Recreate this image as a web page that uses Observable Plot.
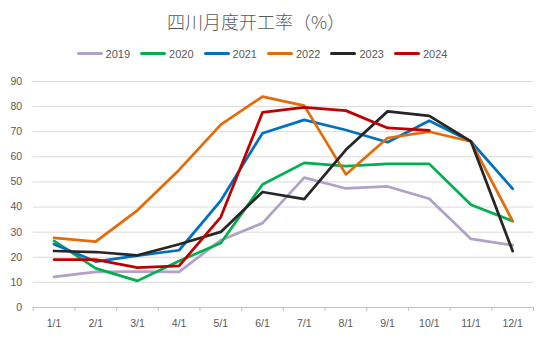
<!DOCTYPE html>
<html><head><meta charset="utf-8">
<script src="https://cdn.jsdelivr.net/npm/d3@7"></script>
<script src="https://cdn.jsdelivr.net/npm/@observablehq/plot@0.6"></script>
<style>
body{margin:0;background:#fff;width:550px;height:342px;overflow:hidden;font-family:"Liberation Sans",Arial,sans-serif;}
#title{height:42px;line-height:42px;text-align:center;font-size:18px;font-weight:300;color:#595959;font-family:"Noto Sans CJK SC",sans-serif;padding-right:38px;}
#legend{height:23px;display:flex;justify-content:center;align-items:center;padding-right:26px;font-size:11px;color:#595959;}
.item{display:flex;align-items:center;margin:0 5px;}
.sw{width:26px;height:3px;border-radius:1.5px;margin-right:3px;}
</style></head>
<body>
<div id="title">四川月度开工率（%）</div>
<div id="legend"></div>
<div id="chart"></div>
<script>
const months = ["1/1","2/1","3/1","4/1","5/1","6/1","7/1","8/1","9/1","10/1","11/1","12/1"];
const years = ["2019","2020","2021","2022","2023","2024"];
const colors = ["#b1a0c7","#00b050","#0070c0","#e36c09","#262626","#c00000"];
const s2019 = [12.2,14.2,14.3,14.2,26.8,33.6,51.7,47.4,48.2,43.3,27.3,24.8];
const s2020 = [26.5,15.6,10.6,18.5,25.7,49.0,57.6,56.3,57.2,57.2,40.9,34.4];
const s2021 = [25.2,18.3,20.7,22.8,42.6,69.4,74.7,70.7,65.8,74.4,66.1,47.3];
const s2022 = [27.7,26.2,38.7,54.8,72.8,84.0,80.4,53.0,67.5,70.0,66.1,34.4];
const s2023 = [22.5,22.1,20.8,25.2,30.1,46.0,43.2,62.8,78.1,76.3,66.1,22.5];
const s2024 = [19.1,19.1,15.9,16.6,36.0,77.7,79.7,78.4,71.5,70.5];
const yTicks = [0,10,20,30,40,50,60,70,80,90];

const series = [s2019,s2020,s2021,s2022,s2023,s2024];
const rows = [];
series.forEach((s, k) => s.forEach((v, i) => rows.push({year: years[k], m: i + 1, v})));
const boundaries = d3.range(0.5, months.length + 1, 1);

const legend = document.getElementById("legend");
years.forEach((y, k) => {
  const it = document.createElement("div"); it.className = "item";
  const sw = document.createElement("div"); sw.className = "sw"; sw.style.background = colors[k];
  const t = document.createElement("span"); t.textContent = y;
  it.appendChild(sw); it.appendChild(t); legend.appendChild(it);
});

const chart = Plot.plot({
  width: 550, height: 277,
  marginTop: 16, marginBottom: 35, marginLeft: 32.7, marginRight: 17,
  style: {fontFamily: "Liberation Sans, Arial, sans-serif", fontSize: "10.5px", color: "#595959", background: "#fff"},
  x: {domain: [0.5, months.length + 0.5]},
  y: {domain: [0, 90]},
  color: {domain: years, range: colors},
  marks: [
    Plot.gridY(yTicks.filter(d => d > 0), {stroke: "#d9d9d9", strokeOpacity: 1, strokeWidth: 1}),
    Plot.ruleY([0], {stroke: "#bfbfbf", strokeWidth: 1}),
    Plot.ruleX(boundaries, {y1: 0, y2: 0, insetBottom: -4, stroke: "#bfbfbf"}),
    Plot.axisY({ticks: yTicks, tickSize: 0, tickPadding: 11, label: null, fill: "#595959"}),
    Plot.axisX({ticks: d3.range(1, months.length + 1), tickFormat: d => months[d - 1], tickSize: 0, tickPadding: 12, label: null, fill: "#595959"}),
    Plot.line(rows, {x: "m", y: "v", z: "year", stroke: "year", strokeWidth: 2.75, strokeLinejoin: "round"})
  ]
});
document.getElementById("chart").appendChild(chart);
</script>
</body></html>
